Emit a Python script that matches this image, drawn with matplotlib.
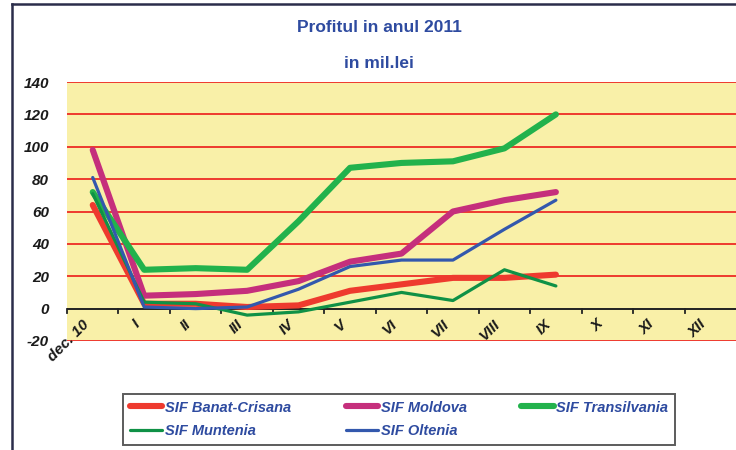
import matplotlib.pyplot as plt
from matplotlib.lines import Line2D

plt.rcParams["axes.unicode_minus"] = False

months = ["dec. 10", "I", "II", "III", "IV", "V", "VI", "VII", "VIII", "IX", "X", "XI", "XII"]

banat = [64, 3, 3, 1, 2, 11, 15, 19, 19, 21]
moldova = [98, 8, 9, 11, 17, 29, 34, 60, 67, 72]
transilvania = [72, 24, 25, 24, 54, 87, 90, 91, 99, 120]
muntenia = [71, 4, 3, -4, -2, 4, 10, 5, 24, 14]
oltenia = [81, 1, 0, 1, 12, 26, 30, 30, 49, 67]

series = [
    ("SIF Banat-Crisana", banat, "#ee3a2e", 4.4),
    ("SIF Moldova", moldova, "#c52f7c", 4.4),
    ("SIF Transilvania", transilvania, "#22b24c", 4.4),
    ("SIF Muntenia", muntenia, "#0f9146", 2.3),
    ("SIF Oltenia", oltenia, "#3358ad", 2.3),
]

font = "Liberation Sans"
blue_txt = "#2e4ba0"

fig = plt.figure(figsize=(7.36, 4.5), dpi=100)
ax = fig.add_axes([67 / 736, 1 - 341 / 450, 1 - 67 / 736, (341 - 82) / 450])
ax.set_facecolor("#f9f0a8")
ax.set_xlim(-0.5, 12.5)
ax.set_ylim(-20, 140)

# red horizontal grid
for v in range(-20, 141, 20):
    if v != 0:
        ax.axhline(v, color="#ee3a2e", lw=1.4, zorder=1)
ax.axhline(0, color="#222222", lw=1.4, zorder=2)

handles = {}
for name, vals, col, lw in series:
    (ln,) = ax.plot(range(len(vals)), vals, color=col, lw=lw, solid_capstyle="round",
                    solid_joinstyle="round", zorder=3)
    handles[name] = ln

for s in ax.spines.values():
    s.set_visible(False)

# tick marks on the zero line at category boundaries
ax.set_xticks([])
for b in range(13):
    ax.plot([b - 0.5, b - 0.5], [0, -2.8], color="#222222", lw=1.3, zorder=2, clip_on=False)

for i, m in enumerate(months):
    ax.text(i - 0.22, -5.5, m, rotation=45, rotation_mode="anchor", ha="right", va="top",
            fontsize=11, fontweight="bold", fontstyle="italic", family=font, color="#1a1a1a")

ax.set_yticks(range(-20, 141, 20))
ax.tick_params(axis="y", length=0, pad=13)
for lab in ax.get_yticklabels():
    lab.set_fontsize(11)
    lab.set_fontweight("bold")
    lab.set_fontstyle("italic")
    lab.set_family(font)
    lab.set_color("#1a1a1a")

fig.text(379 / 736, 1 - 27 / 450, "Profitul in anul 2011", ha="center", va="center",
         fontsize=12.5, fontweight="bold", family=font, color=blue_txt)
fig.text(379 / 736, 1 - 63 / 450, "in mil.lei", ha="center", va="center",
         fontsize=12.5, fontweight="bold", family=font, color=blue_txt)

# outer chart border
fig.add_artist(Line2D([12 / 736, 12 / 736], [0, 1 - 4 / 450], color="#2b2d4a", lw=1.8,
                      transform=fig.transFigure))
fig.add_artist(Line2D([12 / 736, 1], [1 - 4 / 450, 1 - 4 / 450], color="#2b2d4a", lw=1.8,
                      transform=fig.transFigure))

order = ["SIF Banat-Crisana", "SIF Muntenia", "SIF Moldova", "SIF Oltenia", "SIF Transilvania"]
leg = fig.legend([handles[n] for n in order], order, ncol=3, loc="upper left",
                 bbox_to_anchor=(123 / 736, 1 - 394 / 450, (675 - 123) / 736, 0),
                 mode="expand", borderaxespad=0, frameon=True, fancybox=False,
                 handlelength=2.2, handletextpad=0.2, columnspacing=1.0, labelspacing=0.65,
                 borderpad=0.45,
                 prop={"family": font, "weight": "bold", "style": "italic", "size": 10.5})
leg.get_frame().set_edgecolor("#333333")
leg.get_frame().set_linewidth(1.4)
for t in leg.get_texts():
    t.set_color(blue_txt)

fig.savefig("out.png", dpi=100)
